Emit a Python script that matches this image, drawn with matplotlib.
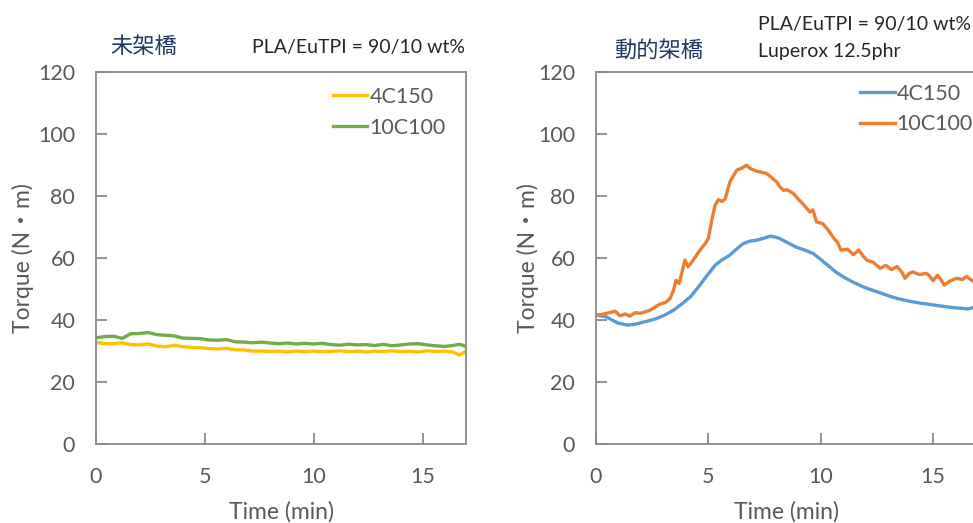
import matplotlib
matplotlib.use("Agg")
import matplotlib.pyplot as plt

plt.rcParams["font.family"] = ["Lato", "Noto Sans CJK JP", "DejaVu Sans"]

# left panel: uncrosslinked
t_left = [0, 0.4, 0.8, 1.2, 1.6, 2.0, 2.4, 2.8, 3.2, 3.6, 4.0, 4.4, 4.8, 5.2, 5.6,
          6.0, 6.4, 6.8, 7.2, 7.6, 8.0, 8.4, 8.8, 9.2, 9.6, 10.0, 10.4, 10.8, 11.2,
          11.6, 12.0, 12.4, 12.8, 13.2, 13.6, 14.0, 14.4, 14.8, 15.2, 15.6, 16.0,
          16.4, 16.7, 16.85, 17.0]
left_4c150 = [32.7, 32.3, 32.3, 32.6, 32.0, 31.9, 32.2, 31.5, 31.3, 31.8, 31.3, 31.1,
              31.0, 30.7, 30.6, 30.8, 30.3, 30.3, 29.9, 29.9, 29.8, 29.9, 29.6, 29.9,
              29.7, 29.9, 29.7, 29.8, 30.0, 29.7, 29.9, 29.6, 29.9, 29.8, 30.0, 29.7,
              29.8, 29.6, 30.0, 29.8, 29.9, 29.6, 28.6, 29.2, 30.0]
left_10c100 = [34.2, 34.6, 34.7, 34.0, 35.5, 35.6, 35.9, 35.2, 35.0, 34.8, 34.1, 34.0,
               33.9, 33.5, 33.4, 33.6, 32.9, 32.8, 32.6, 32.8, 32.5, 32.3, 32.5, 32.2,
               32.4, 32.2, 32.4, 32.0, 31.8, 32.1, 31.9, 32.0, 31.7, 32.1, 31.6, 31.9,
               32.2, 32.3, 31.9, 31.6, 31.4, 31.7, 32.1, 31.8, 31.3]

# right panel: dynamically crosslinked
t_blue = [0, 0.45, 0.7, 0.96, 1.2, 1.4, 1.7, 1.96, 2.3, 2.7, 3.05, 3.45, 3.8, 4.2, 4.55,
          4.9, 5.3, 5.6, 5.96, 6.25, 6.55, 6.85, 7.15, 7.45, 7.75, 8.0, 8.19, 8.5, 8.9,
          9.3, 9.67, 10.0, 10.4, 10.7, 11.0, 11.4, 11.9, 12.25, 12.65, 13.0, 13.4,
          13.75, 14.1, 14.5, 14.85, 15.2, 15.6, 15.95, 16.3, 16.55, 16.8, 17.0]
right_4c150 = [41.5, 41.0, 40.0, 39.0, 38.6, 38.3, 38.5, 39.0, 39.6, 40.4, 41.5, 43.1,
               45.0, 47.4, 50.5, 53.9, 57.6, 59.3, 60.9, 62.8, 64.6, 65.4, 65.7, 66.3,
               67.0, 66.7, 66.2, 65.0, 63.5, 62.5, 61.4, 59.5, 57.1, 55.3, 53.9, 52.3,
               50.6, 49.7, 48.7, 47.8, 46.9, 46.3, 45.8, 45.3, 45.0, 44.6, 44.2, 43.9,
               43.7, 43.5, 44.0, 43.9]
t_orange = [0, 0.3, 0.6, 0.85, 1.07, 1.3, 1.5, 1.75, 1.96, 2.2, 2.4, 2.6, 2.85, 3.1, 3.3,
            3.45, 3.56, 3.7, 3.85, 3.96, 4.1, 4.3, 4.63, 4.85, 5.0, 5.15, 5.3, 5.45, 5.6,
            5.75, 5.96, 6.26, 6.5, 6.7, 6.9, 7.15, 7.4, 7.6, 7.8, 8.04, 8.19, 8.35, 8.5,
            8.78, 9.0, 9.2, 9.52, 9.65, 9.82, 10.1, 10.35, 10.6, 10.75, 10.9, 11.2, 11.45,
            11.7, 11.9, 12.05, 12.35, 12.65, 12.9, 13.15, 13.4, 13.6, 13.75, 13.95, 14.1,
            14.4, 14.7, 14.85, 15.0, 15.2, 15.35, 15.5, 15.75, 16.05, 16.3, 16.5, 16.7,
            16.85, 17.0]
right_10c100 = [41.5, 41.8, 42.3, 42.8, 41.3, 41.9, 41.2, 42.3, 42.1, 42.6, 43.1, 44.0,
                45.1, 45.6, 46.9, 49.5, 52.8, 51.7, 56.0, 59.3, 57.1, 59.0, 62.5, 64.5,
                66.2, 72.0, 77.0, 78.8, 78.2, 79.0, 84.5, 88.3, 89.0, 89.9, 88.7, 88.0,
                87.6, 87.2, 86.0, 84.5, 82.9, 81.8, 82.0, 80.8, 79.0, 77.5, 74.8, 75.5,
                71.6, 71.0, 68.8, 66.2, 65.0, 62.5, 62.8, 61.0, 62.5, 60.5, 59.3, 58.5,
                56.6, 57.6, 56.2, 57.2, 55.5, 53.4, 55.0, 55.5, 54.6, 55.0, 54.2, 52.6,
                54.4, 53.0, 51.2, 52.5, 53.4, 53.0, 54.0, 52.8, 52.3, 52.6]

labels = ["4C150", "10C100"]
x_ticks = [0, 5, 10, 15]
y_ticks = [0, 20, 40, 60, 80, 100, 120]

AX_GRAY = "#8a8a8a"
TXT_GRAY = "#595959"
TITLE_BLUE = "#1F3864"

fig = plt.figure(figsize=(9.73, 5.23), dpi=100)
ax1 = fig.add_axes([0.0987, 0.1516, 0.3803, 0.7107])
ax2 = fig.add_axes([0.6125, 0.1516, 0.3926, 0.7107])


def style(ax, ylab_x):
    ax.set_xlim(0, 17)
    ax.set_ylim(0, 120)
    ax.set_xticks(x_ticks)
    ax.set_yticks(y_ticks)
    for s in ax.spines.values():
        s.set_color(AX_GRAY)
        s.set_linewidth(1.3)
    ax.tick_params(direction="in", length=8, width=1.3, color=AX_GRAY,
                   labelcolor=TXT_GRAY, labelsize=15.5)
    ax.tick_params(axis="x", pad=17)
    ax.tick_params(axis="y", pad=15)
    ax.set_ylabel("Torque (N・m)", fontsize=16.5, color=TXT_GRAY)
    ax.yaxis.set_label_coords(ylab_x, 0.5)
    ax.set_xlabel("Time (min)", fontsize=16.5, color=TXT_GRAY)
    ax.xaxis.set_label_coords(0.5, -0.155)


ax1.plot(t_left, left_4c150, color="#FFC000", lw=2.4, label=labels[0])
ax1.plot(t_left, left_10c100, color="#70AD47", lw=2.4, label=labels[1])
style(ax1, -0.168)

ax2.plot(t_blue, right_4c150, color="#5B9BD5", lw=2.4, label=labels[0])
ax2.plot(t_orange, right_10c100, color="#ED7D31", lw=2.4, label=labels[1])
style(ax2, -0.15)

for ax, pos in [(ax1, (0.342, 0.834)), (ax2, (0.884, 0.840))]:
    leg = ax.legend(loc="upper left", bbox_to_anchor=pos, bbox_transform=fig.transFigure,
                    frameon=False, fontsize=15.5, handlelength=1.6, handletextpad=0.1,
                    borderpad=0, borderaxespad=0, labelspacing=0.5)
    for txt in leg.get_texts():
        txt.set_color(TXT_GRAY)

fig.text(0.113, 0.910, "未架橋", fontsize=16, color=TITLE_BLUE, va="center")
fig.text(0.259, 0.910, "PLA/EuTPI = 90/10 wt%", fontsize=14, color="#262626", va="center")
fig.text(0.631, 0.904, "動的架橋", fontsize=16, color=TITLE_BLUE, va="center")
fig.text(0.779, 0.954, "PLA/EuTPI = 90/10 wt%", fontsize=14, color="#262626", va="center")
fig.text(0.779, 0.901, "Luperox 12.5phr", fontsize=14, color="#262626", va="center")

fig.savefig("out.png", dpi=100, facecolor="white")
